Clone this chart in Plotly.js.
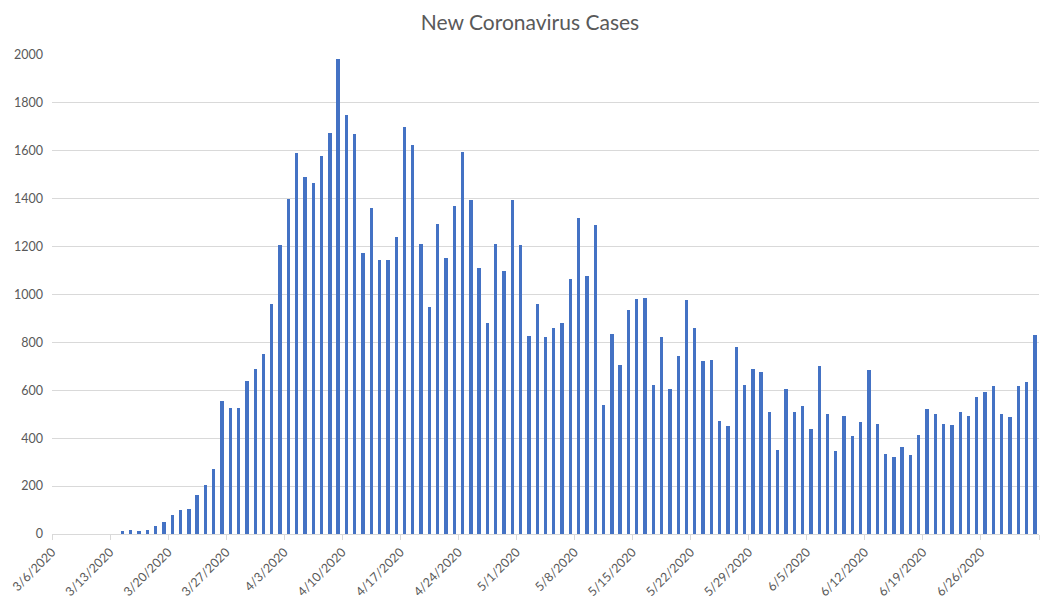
<!DOCTYPE html>
<html>
<head>
<meta charset="utf-8">
<script src="https://cdn.plot.ly/plotly-3.0.1.min.js"></script>
<style>
  html, body { margin: 0; padding: 0; background: #fff; }
  #chart { width: 1060px; height: 616px; }
</style>
</head>
<body>
<div id="chart"></div>
<script>
// daily new cases, 3/14/2020 through 7/2/2020
var firstDay = '2020-03-14';
var newCases = [
  12, 18, 12, 18, 33, 50, 81, 101, 106, 164, 206, 273, 555, 528, 528, 638, 690, 752,
  961, 1206, 1398, 1591, 1490, 1467, 1577, 1676, 1983,
  1748, 1670, 1175, 1363, 1145, 1145, 1242, 1701, 1623, 1211, 946, 1295, 1153, 1369,
  1597, 1395, 1111, 883, 1211, 1097, 1395,
  1206, 826, 961, 821, 862, 883, 1065, 1321, 1076, 1289, 538, 836, 707, 935, 982,
  987, 622, 821, 606, 743, 976, 862,
  722, 727, 470, 449, 779, 622, 690, 675, 508,
  350, 606, 508, 533, 440, 701, 502, 345, 491, 408, 466, 686, 460, 335, 320, 362,
  330, 413, 523, 502, 460, 455, 508, 491, 574, 595, 616, 502, 487, 616,
  633, 830
];
var tickDates = ['2020-03-06', '2020-03-13', '2020-03-20', '2020-03-27', '2020-04-03',
  '2020-04-10', '2020-04-17', '2020-04-24', '2020-05-01', '2020-05-08', '2020-05-15',
  '2020-05-22', '2020-05-29', '2020-06-05', '2020-06-12', '2020-06-19', '2020-06-26',
  '2020-07-03'];
var tickLabels = ['3/6/2020', '3/13/2020', '3/20/2020', '3/27/2020', '4/3/2020',
  '4/10/2020', '4/17/2020', '4/24/2020', '5/1/2020', '5/8/2020', '5/15/2020',
  '5/22/2020', '5/29/2020', '6/5/2020', '6/12/2020', '6/19/2020', '6/26/2020', ''];

var DAY = 86400000;
var start = new Date(firstDay + 'T00:00:00Z').getTime();
var days = newCases.map(function (v, i) {
  return new Date(start + i * DAY).toISOString().slice(0, 10);
});

var trace = {
  x: days,
  y: newCases,
  type: 'bar',
  xperiod: DAY,
  xperiodalignment: 'middle',
  width: DAY * 0.4,
  marker: { color: '#4472C4' },
  hoverinfo: 'x+y'
};

var layout = {
  width: 1060,
  height: 616,
  margin: { l: 52, r: 21, t: 55, b: 82 },
  paper_bgcolor: '#ffffff',
  plot_bgcolor: '#ffffff',
  font: { family: 'Lato, "Open Sans", sans-serif', color: '#595959', size: 12 },
  title: {
    text: 'New Coronavirus Cases',
    font: { size: 21, color: '#595959' },
    x: 0.5,
    xanchor: 'center',
    y: 0.963,
    yanchor: 'middle'
  },
  showlegend: false,
  bargap: 0,
  xaxis: {
    type: 'date',
    range: ['2020-03-06', '2020-07-03'],
    tickmode: 'array',
    tickvals: tickDates,
    ticktext: tickLabels,
    tickangle: -45,
    ticks: 'outside',
    ticklen: 5,
    tickcolor: '#D9D9D9',
    showline: true,
    linecolor: '#D9D9D9',
    linewidth: 1,
    showgrid: false,
    zeroline: false,
    tickfont: { size: 12.5, color: '#595959' }
  },
  yaxis: {
    range: [0, 2000],
    dtick: 200,
    showgrid: true,
    gridcolor: '#D9D9D9',
    gridwidth: 1,
    zeroline: false,
    showline: false,
    ticks: '',
    ticklabelstandoff: 8,
    tickfont: { size: 12.5, color: '#595959' }
  }
};

Plotly.newPlot('chart', [trace], layout, { displayModeBar: false, staticPlot: true });
</script>
</body>
</html>
